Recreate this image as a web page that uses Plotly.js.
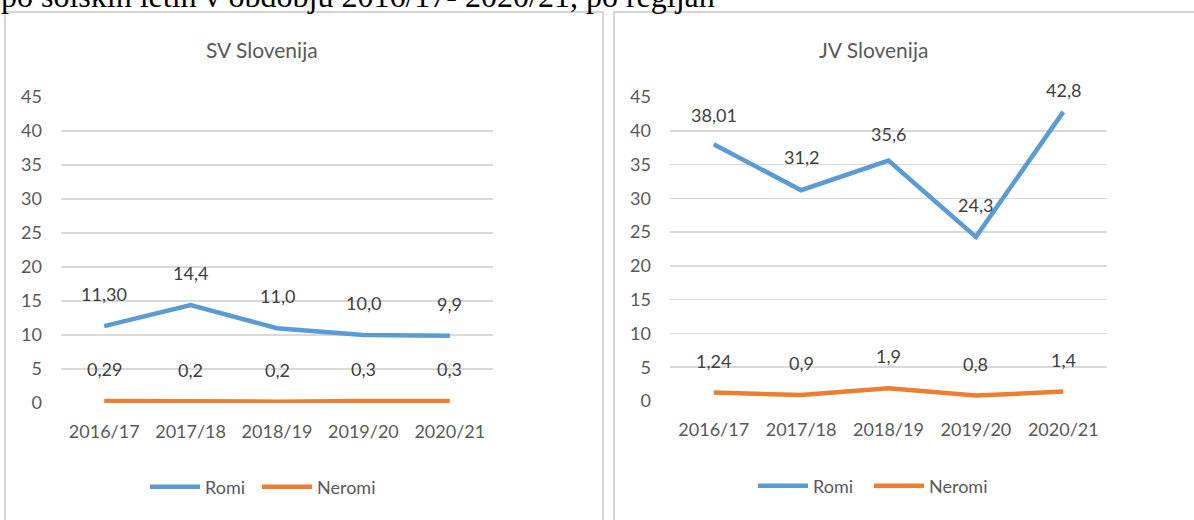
<!DOCTYPE html>
<html>
<head>
<meta charset="utf-8">
<script src="https://cdn.plot.ly/plotly-3.0.1.min.js"></script>
<style>
html,body{margin:0;padding:0;background:#fff;}
#chart{width:1194px;height:520px;}
</style>
</head>
<body>
<div id="chart"></div>
<script>
// ---- data ----
const years = ["2016/17", "2017/18", "2018/19", "2019/20", "2020/21"];
const svRomi = [11.30, 14.4, 11.0, 10.0, 9.9];
const svNeromi = [0.29, 0.2, 0.2, 0.3, 0.3];
const jvRomi = [38.01, 31.2, 35.6, 24.3, 42.8];
const jvNeromi = [1.24, 0.9, 1.9, 0.8, 1.4];
const svRomiLabels = ["11,30", "14,4", "11,0", "10,0", "9,9"];
const svNeromiLabels = ["0,29", "0,2", "0,2", "0,3", "0,3"];
const jvRomiLabels = ["38,01", "31,2", "35,6", "24,3", "42,8"];
const jvNeromiLabels = ["1,24", "0,9", "1,9", "0,8", "1,4"];
const yTicks = [0, 5, 10, 15, 20, 25, 30, 35, 40, 45];

// ---- styling ----
const W = 1194, H = 520;
const fx = v => v / W;
const fy = v => 1 - v / H;
const BLUE = "#5B9BD5", ORANGE = "#ED7D31";
const FONT = "Lato, 'Open Sans', sans-serif";
const TICKC = "#595959", LABELC = "#404040", GRID = "#d9d9d9";
const labelShift = 32;
const jvRomiShift = [29, 33, 27, 32, 22];

function line(name, x, y, color, xa, ya, legend, lw) {
  const t = {type: "scatter", mode: "lines", name: name, x: x, y: y,
    xaxis: xa, yaxis: ya, legend: legend,
    line: {color: color, width: 4.5}, hoverinfo: "skip"};
  if (lw) t.legendwidth = lw;
  return t;
}
const traces = [
  line("Romi", years, svRomi, BLUE, "x", "y", "legend", 47),
  line("Neromi", years, svNeromi, ORANGE, "x", "y", "legend"),
  line("Romi", years, jvRomi, BLUE, "x2", "y2", "legend2", 51),
  line("Neromi", years, jvNeromi, ORANGE, "x2", "y2", "legend2")
];

const annotations = [];
function addLabels(vals, labels, xr, yr, shifts) {
  vals.forEach((v, i) => {
    annotations.push({xref: xr, yref: yr, x: years[i], y: v, text: labels[i],
      showarrow: false, yshift: shifts ? shifts[i] : labelShift,
      font: {family: FONT, size: 18, color: LABELC}});
  });
}
addLabels(svRomi, svRomiLabels, "x", "y");
addLabels(svNeromi, svNeromiLabels, "x", "y");
addLabels(jvRomi, jvRomiLabels, "x2", "y2", jvRomiShift);
addLabels(jvNeromi, jvNeromiLabels, "x2", "y2");

annotations.push({xref: "paper", yref: "paper", x: fx(262), xanchor: "center", y: fy(50), yanchor: "middle",
  text: "SV Slovenija", showarrow: false, font: {family: FONT, size: 21, color: TICKC}});
annotations.push({xref: "paper", yref: "paper", x: fx(873), xanchor: "center", y: fy(50), yanchor: "middle",
  text: "JV Slovenija", showarrow: false, font: {family: FONT, size: 21, color: TICKC}});
annotations.push({xref: "paper", yref: "paper", x: fx(-1), xanchor: "left", y: fy(-4), yanchor: "middle",
  text: "po šolskih letih v obdobju 2016/17- 2020/21, po regijah",
  showarrow: false, font: {family: "'Liberation Serif', 'Times New Roman', serif", size: 32, color: "#000"}});

function xAxis(d0, d1, anchor) {
  return {domain: [fx(d0), fx(d1)], anchor: anchor, type: "category", range: [-0.5, 4.5],
    showgrid: false, showline: false, zeroline: false, ticks: "", ticklabelstandoff: 16,
    tickfont: {family: FONT, size: 18, color: TICKC}, fixedrange: true};
}
function yAxis(top, bottom, anchor) {
  return {domain: [fy(bottom), fy(top)], anchor: anchor, range: [-0.0001, 45.0001],
    tickmode: "array", tickvals: yTicks, ticktext: yTicks.map(String),
    showgrid: true, gridcolor: GRID, gridwidth: 1.5, zeroline: false, showline: false,
    ticks: "", ticklabelstandoff: 18,
    tickfont: {family: FONT, size: 18, color: TICKC}, fixedrange: true};
}

const legendBase = {orientation: "h", xanchor: "left", yanchor: "middle", itemwidth: 50,
  font: {family: FONT, size: 18, color: TICKC}, bgcolor: "rgba(0,0,0,0)"};

const layout = {
  width: W, height: H,
  margin: {l: 0, r: 0, t: 0, b: 0},
  paper_bgcolor: "#fff", plot_bgcolor: "#fff",
  xaxis: xAxis(61, 493, "y"),
  yaxis: yAxis(97, 403, "x"),
  xaxis2: xAxis(670, 1107, "y2"),
  yaxis2: yAxis(97, 401, "x2"),
  legend: Object.assign({}, legendBase, {x: fx(145), y: fy(487)}),
  legend2: Object.assign({}, legendBase, {x: fx(753), y: fy(486)}),
  shapes: [
    {type: "rect", xref: "paper", yref: "paper", x0: fx(5), x1: fx(603), y0: fy(530), y1: fy(12),
      line: {color: "#d6d6d6", width: 2}, layer: "below"},
    {type: "rect", xref: "paper", yref: "paper", x0: fx(614), x1: fx(1210), y0: fy(530), y1: fy(12),
      line: {color: "#d6d6d6", width: 2}, layer: "below"}
  ],
  annotations: annotations,
  showlegend: true
};

Plotly.newPlot("chart", traces, layout, {staticPlot: true, displayModeBar: false});
</script>
</body>
</html>
